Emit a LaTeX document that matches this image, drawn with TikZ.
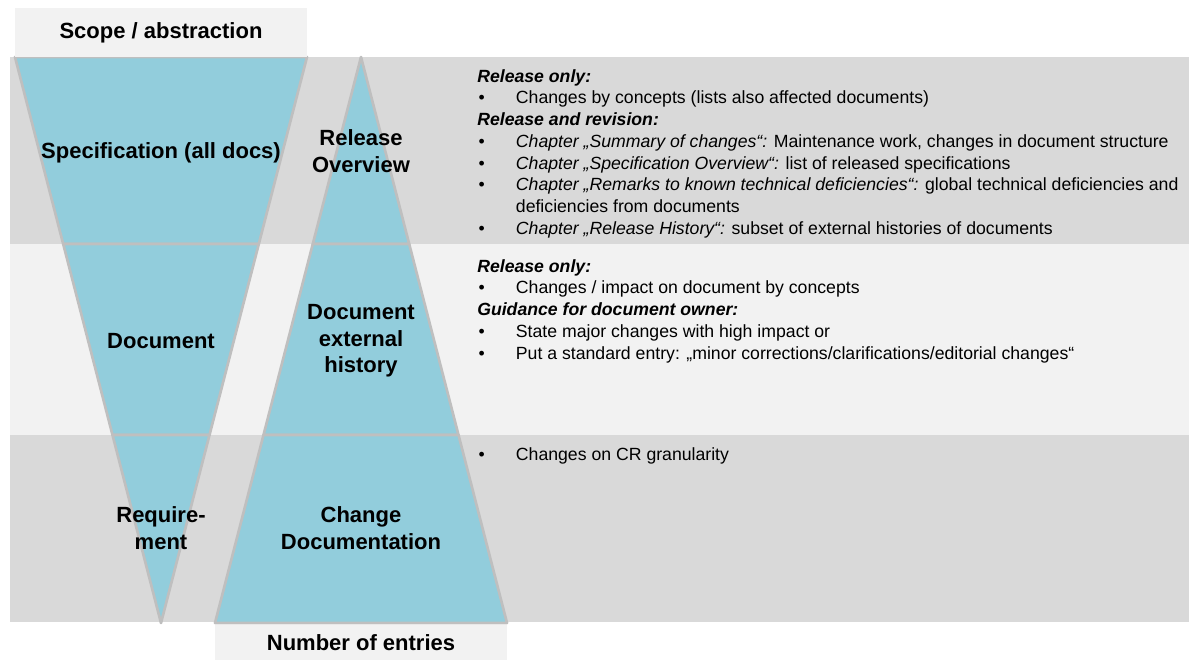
\documentclass[tikz,border=0pt]{standalone}
\usepackage{fontspec}
\setmainfont{Liberation Sans}
\definecolor{coneblue}{HTML}{92CDDC}
\definecolor{banddark}{HTML}{D9D9D9}
\definecolor{bandlight}{HTML}{F2F2F2}
\definecolor{edgegray}{HTML}{BFBFBF}
\newcommand{\bitem}[1]{\makebox[29pt][l]{\hspace{1pt}\textbullet}#1}
\begin{document}
\begin{tikzpicture}[x=0.75pt, y=-0.75pt,
  band/.style={fill=#1},
  cone/.style={fill=coneblue, draw=edgegray, line width=2pt, line join=round},
  head/.style={fill=bandlight, inner sep=0pt, minimum width=219pt, font=\fontsize{16.5}{20}\selectfont\bfseries},
  label/.style={align=center, font=\fontsize{16.5}{20}\selectfont\bfseries},
  notes/.style={anchor=north west, align=left, inner sep=0pt, font=\fontsize{13.25}{16.3}\selectfont}]
\useasboundingbox (0,0) rectangle (1189,660);

% bands
\fill[band=banddark] (10,57) rectangle (1189,244);
\fill[band=bandlight] (10,244) rectangle (1189,435);
\fill[band=banddark] (10,435) rectangle (1189,622);

% scope (V) and entries (A)
\filldraw[cone] (15,57) -- (307,57) -- (258.8,244) -- (63.2,244) -- cycle;
\filldraw[cone] (63.2,244) -- (258.8,244) -- (209.5,435) -- (112.5,435) -- cycle;
\filldraw[cone] (112.5,435) -- (209.5,435) -- (161,623) -- cycle;
\filldraw[cone] (361,57) -- (409.2,244) -- (312.8,244) -- cycle;
\filldraw[cone] (312.8,244) -- (409.2,244) -- (458.5,435) -- (263.5,435) -- cycle;
\filldraw[cone] (263.5,435) -- (458.5,435) -- (507,623) -- (215,623) -- cycle;

\node[head, minimum height=36.75pt] (scope) at (161,32.5) {Scope / abstraction};
\node[head, minimum height=26.25pt] (entries) at (361,642.5) {Number of entries};

\node[label] (spec) at (161,153) {Specification (all docs)};
\node[label] (doc) at (161,341) {Document};
\node[label] (req) at (161,528) {Require-\\ment};
\node[label] (relov) at (361,151) {Release\\Overview};
\node[label] (dochist) at (361,341) {Document\\external\\history};
\node[label] (chdoc) at (361,528) {Change\\Documentation};

% notes
\node[notes] (relnotes) at (477,69) {\textbf{\textit{Release only:}}\\
\bitem{Changes by concepts (lists also affected documents)}\\
\textbf{\textit{Release and revision:}}\\
\bitem{\textit{Chapter „Summary of changes“:} Maintenance work, changes in document structure}\\
\bitem{\textit{Chapter „Specification Overview“:} list of released specifications}\\
\bitem{\textit{Chapter „Remarks to known technical deficiencies“:} global technical deficiencies and}\\
\hspace*{29pt}deficiencies from documents\\
\bitem{\textit{Chapter „Release History“:} subset of external histories of documents}};
\node[notes] (docnotes) at (477,259) {\textbf{\textit{Release only:}}\\
\bitem{Changes / impact on document by concepts}\\
\textbf{\textit{Guidance for document owner:}}\\
\bitem{State major changes with high impact or}\\
\bitem{Put a standard entry: „minor corrections/clarifications/editorial changes“}};
\node[notes] (chnotes) at (477,447) {\bitem{Changes on CR granularity}};
\end{tikzpicture}
\end{document}
